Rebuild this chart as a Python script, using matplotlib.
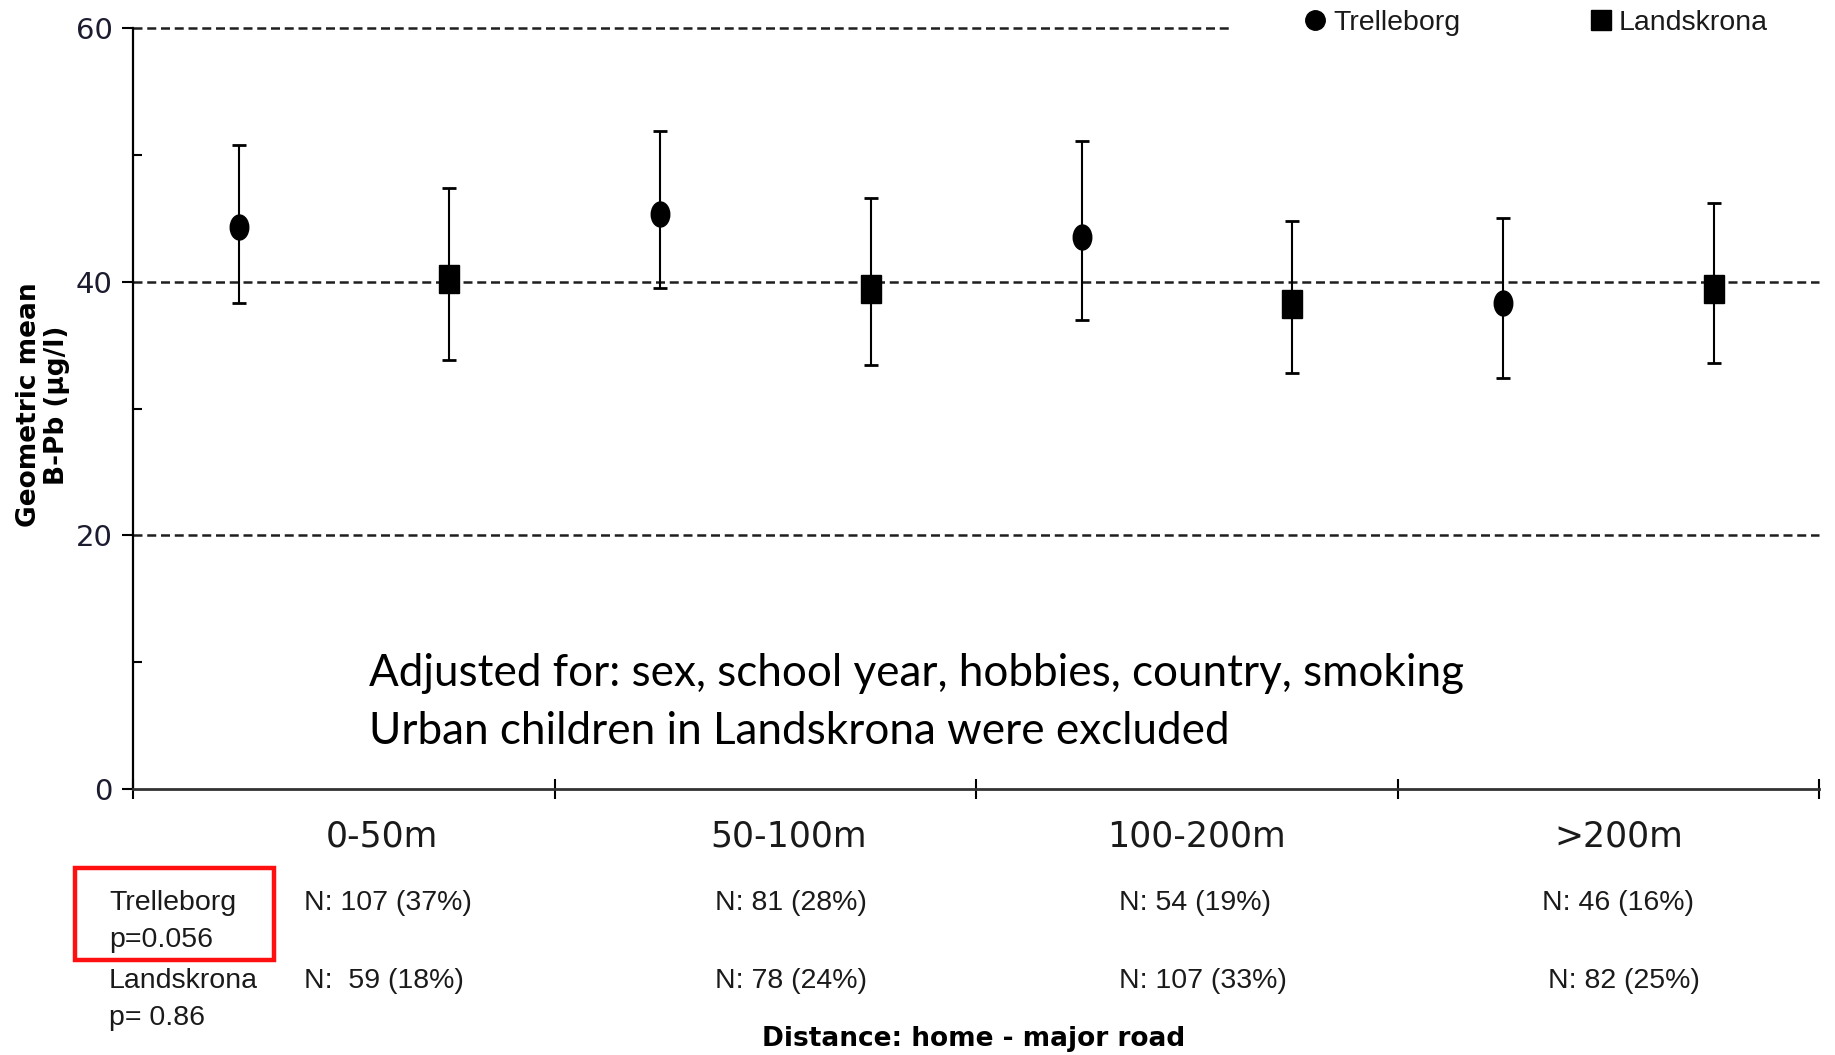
import matplotlib
matplotlib.use("Agg")
import matplotlib.pyplot as plt
from matplotlib.lines import Line2D
from matplotlib.markers import MarkerStyle
from matplotlib.patches import Rectangle
from matplotlib.transforms import Affine2D
import numpy as np

# Geometric mean B-Pb by distance from home to major road
categories = ['0-50m', '50-100m', '100-200m', '>200m']

trel_mean = [44.3, 45.3, 43.5, 38.3]
trel_low = [38.3, 39.5, 37.0, 32.4]
trel_high = [50.8, 51.9, 51.1, 45.0]

land_mean = [40.2, 39.4, 38.2, 39.45]
land_low = [33.8, 33.4, 32.8, 33.6]
land_high = [47.35, 46.6, 44.8, 46.2]

trel_n = ['N: 107 (37%)', 'N: 81 (28%)', 'N: 54 (19%)', 'N: 46 (16%)']
land_n = ['N:  59 (18%)', 'N: 78 (24%)', 'N: 107 (33%)', 'N: 82 (25%)']

# layout (positions in category units)
cat_label_x = [0.589, 1.555, 2.522, 3.524]
trel_n_x = [0.405, 1.38, 2.34, 3.343]
land_n_x = [0.405, 1.38, 2.34, 3.357]

W, H = 1835, 1055
TXT = '#1a1a1a'
SANS = ['Liberation Sans', 'DejaVu Sans']
NS = 20.5


def fx(px):
    return px / W


def fy(py):
    return 1 - py / H


fig = plt.figure(figsize=(W / 100, H / 100), dpi=100)
ax = fig.add_axes([fx(133.3), fy(789), fx(1819) - fx(133.3), fy(28) - fy(789)])

x = np.arange(len(categories))
x_trel = x + 0.25
x_land = x + 0.75

# dashed reference lines
dash = dict(color='#1e1e1e', lw=1.8, ls=(0, (3.6, 1.9)), zorder=1, clip_on=False)
ax.axhline(20, **dash)
ax.axhline(40, **dash)
ax.axhline(60, xmax=0.652, **dash)

tm = np.array(trel_mean)
lm = np.array(land_mean)
ax.errorbar(x_trel, tm, yerr=[tm - np.array(trel_low), np.array(trel_high) - tm],
            fmt='none', ecolor='black', elinewidth=1.5, capsize=5, capthick=2, zorder=2)
ax.errorbar(x_land, lm, yerr=[lm - np.array(land_low), np.array(land_high) - lm],
            fmt='none', ecolor='black', elinewidth=1.5, capsize=5, capthick=2, zorder=2)

circ = MarkerStyle('o', transform=Affine2D().scale(0.74, 1.0))
sq = MarkerStyle('s', transform=Affine2D().scale(0.72, 1.0))
ax.plot(x_trel, tm, ls='none', marker=circ, ms=18, color='black', zorder=3)
ax.plot(x_land, lm, ls='none', marker=sq, ms=19.5, color='black', zorder=3)

ax.set_xlim(0, 4)
ax.set_ylim(0, 60)
for s in ['top', 'right']:
    ax.spines[s].set_visible(False)
ax.spines['left'].set_linewidth(1.6)
ax.spines['left'].set_color('black')
ax.spines['bottom'].set_linewidth(2)
ax.spines['bottom'].set_color('#333333')

ax.set_yticks([0, 20, 40, 60])
ax.set_yticks([10, 30, 50], minor=True)
ax.tick_params(axis='y', which='major', direction='out', length=8, width=1.5,
               labelsize=21, pad=7, labelcolor='#1c1c30')
ax.tick_params(axis='y', which='minor', direction='in', length=6.5, width=1.5)
ax.set_xticks(np.arange(len(categories) + 1))
ax.set_xticklabels([])
ax.tick_params(axis='x', which='major', direction='inout', length=14, width=1.5, color='black')

xt = ax.get_xaxis_transform()
for cx, lab in zip(cat_label_x, categories):
    ax.text(cx, -0.0618, lab, transform=xt, ha='center', va='center',
            fontsize=25, color=TXT, family='DejaVu Sans')

for nx, lab in zip(trel_n_x, trel_n):
    ax.text(nx, -0.1498, lab, transform=xt, ha='left', va='center',
            fontsize=NS, color=TXT, family=SANS)
for nx, lab in zip(land_n_x, land_n):
    ax.text(nx, -0.2523, lab, transform=xt, ha='left', va='center',
            fontsize=NS, color=TXT, family=SANS)

# row labels on the left
fig.text(fx(109), fy(903), 'Trelleborg', va='center', fontsize=NS, color=TXT, family=SANS)
fig.text(fx(109), fy(940), 'p=0.056', va='center', fontsize=NS, color=TXT, family=SANS)
fig.text(fx(109), fy(981), 'Landskrona', va='center', fontsize=NS, color=TXT, family=SANS)
fig.text(fx(109), fy(1018), 'p= 0.86', va='center', fontsize=NS, color=TXT, family=SANS)

box = Rectangle((fx(75), fy(960)), fx(274) - fx(75), fy(868) - fy(960),
                transform=fig.transFigure, fill=False, edgecolor='#ff1010', lw=3.2)
fig.add_artist(box)

# note inside the plot
fig.text(fx(369), fy(686), 'Adjusted for: sex, school year, hobbies, country, smoking',
         va='baseline', fontsize=31.7, color='black', family='Lato')
fig.text(fx(369), fy(744), 'Urban children in Landskrona were excluded',
         va='baseline', fontsize=31.7, color='black', family='Lato')

fig.text(fx(974), fy(1039), 'Distance: home - major road', ha='center', va='center',
         fontsize=19, fontweight='bold', color='black', family='DejaVu Sans')

fig.text(fx(43), fy(405), 'Geometric mean\nB-Pb (\u00b5g/l)', rotation=90, ha='center',
         va='center', multialignment='center', fontsize=19, fontweight='bold',
         color='black', family='DejaVu Sans', linespacing=1.15)

handles = [
    Line2D([], [], ls='none', marker='o', ms=14, color='black', label='Trelleborg'),
    Line2D([], [], ls='none', marker='s', ms=15, color='black', label='Landskrona'),
]
ax.legend(handles=handles, ncol=2, frameon=False, loc='center left',
          bbox_to_anchor=(fx(1305), fy(23)), bbox_transform=fig.transFigure,
          handlelength=0.7, handletextpad=0.28, columnspacing=4.6,
          borderpad=0, borderaxespad=0,
          prop={'family': SANS, 'size': NS}, labelcolor=TXT)

fig.savefig('out.png', dpi=100)
